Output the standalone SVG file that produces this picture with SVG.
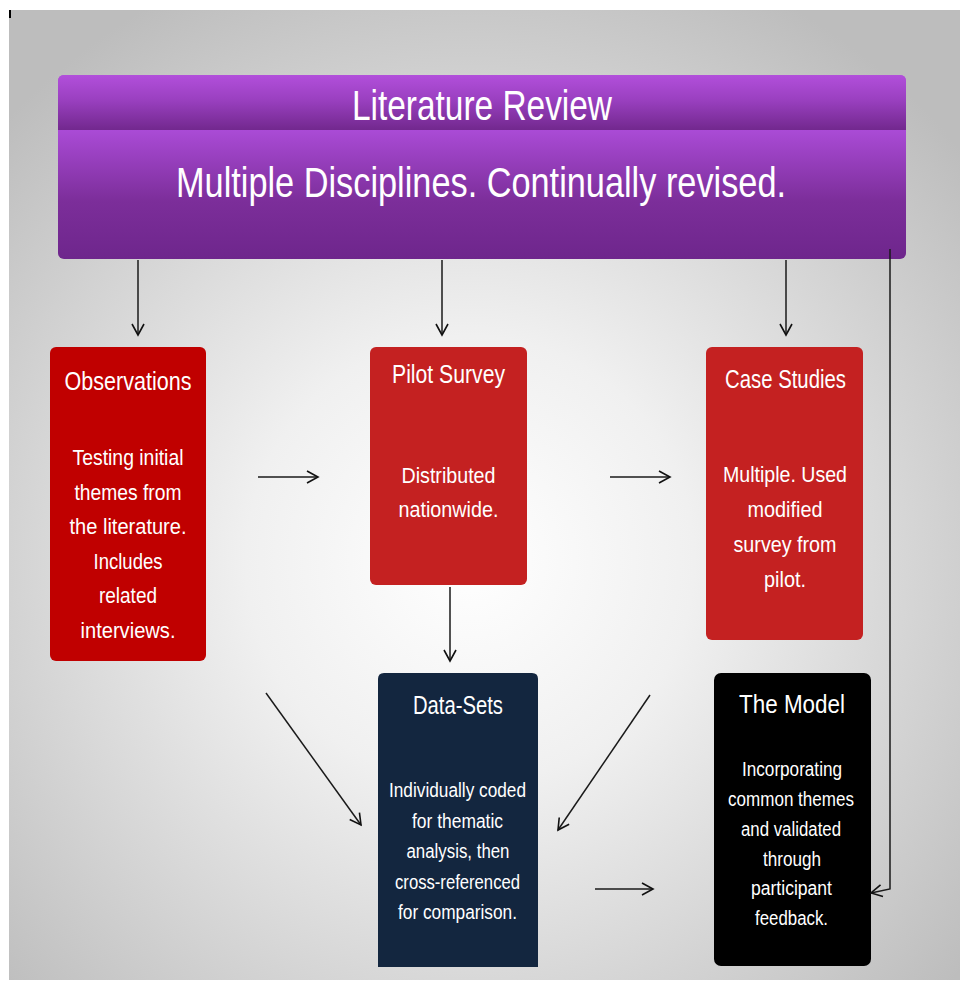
<svg xmlns="http://www.w3.org/2000/svg" width="960" height="983" viewBox="0 0 960 983">
<defs>
<radialGradient id="bg" gradientUnits="userSpaceOnUse" cx="470" cy="560" r="640">
<stop offset="0" stop-color="#ffffff"/>
<stop offset="0.35" stop-color="#f0f0f0"/>
<stop offset="1" stop-color="#bdbdbd"/>
</radialGradient>
<linearGradient id="hdrTop" x1="0" y1="75" x2="0" y2="130" gradientUnits="userSpaceOnUse">
<stop offset="0" stop-color="#b24fdb"/>
<stop offset="0.45" stop-color="#9a40c0"/>
<stop offset="1" stop-color="#72288e"/>
</linearGradient>
<linearGradient id="hdrBot" x1="0" y1="130" x2="0" y2="259" gradientUnits="userSpaceOnUse">
<stop offset="0" stop-color="#aa4bd6"/>
<stop offset="0.55" stop-color="#7c2e9a"/>
<stop offset="1" stop-color="#6e268c"/>
</linearGradient>
<marker id="ah" markerUnits="userSpaceOnUse" markerWidth="16" markerHeight="16" refX="12" refY="7" orient="auto" viewBox="0 0 16 14">
<path d="M1,1 L12,7 L1,13" fill="none" stroke="#111" stroke-width="1.6"/>
</marker>
</defs>
<style>
.t{font-family:"Liberation Sans",Arial,sans-serif;fill:#ffffff;text-anchor:middle}
.h{font-size:42px}
.tt{font-size:25px}
.b{font-size:22px}
.s{font-size:19.5px}
.c{fill:none;stroke:#1a1a1a;stroke-width:1.5}
</style>
<rect x="0" y="0" width="960" height="983" fill="#ffffff"/>
<rect x="9" y="10" width="951" height="970" fill="url(#bg)"/>
<rect x="9" y="10" width="2" height="8" fill="#000"/>

<g id="header">
<rect x="58" y="75" width="848" height="184" rx="6" fill="url(#hdrBot)"/>
<path d="M58,130 V81 Q58,75 64,75 H900 Q906,75 906,81 V130 Z" fill="url(#hdrTop)"/>
<text class="t h" x="482" y="120" textLength="260" lengthAdjust="spacingAndGlyphs">Literature Review</text>
<text class="t h" x="481" y="197" textLength="610" lengthAdjust="spacingAndGlyphs">Multiple Disciplines. Continually revised.</text>
</g>

<g id="observations">
<rect x="50" y="347" width="156" height="314" rx="6" fill="#c00000"/>
<text class="t tt" x="128" y="390" textLength="127" lengthAdjust="spacingAndGlyphs">Observations</text>
<text class="t b" x="128" y="465" textLength="111" lengthAdjust="spacingAndGlyphs">Testing initial</text>
<text class="t b" x="128" y="500" textLength="107" lengthAdjust="spacingAndGlyphs">themes from</text>
<text class="t b" x="128" y="534" textLength="117" lengthAdjust="spacingAndGlyphs">the literature.</text>
<text class="t b" x="128" y="569" textLength="69" lengthAdjust="spacingAndGlyphs">Includes</text>
<text class="t b" x="128" y="603" textLength="58" lengthAdjust="spacingAndGlyphs">related</text>
<text class="t b" x="128" y="638" textLength="95" lengthAdjust="spacingAndGlyphs">interviews.</text>
</g>

<g id="pilot-survey">
<rect x="370" y="347" width="157" height="238" rx="6" fill="#c42121"/>
<text class="t tt" x="448.5" y="383" textLength="113" lengthAdjust="spacingAndGlyphs">Pilot Survey</text>
<text class="t b" x="448.5" y="483" textLength="94" lengthAdjust="spacingAndGlyphs">Distributed</text>
<text class="t b" x="448.5" y="517" textLength="100" lengthAdjust="spacingAndGlyphs">nationwide.</text>
</g>

<g id="case-studies">
<rect x="706" y="347" width="157" height="293" rx="6" fill="#c42121"/>
<text class="t tt" x="785.5" y="388" textLength="121" lengthAdjust="spacingAndGlyphs">Case Studies</text>
<text class="t b" x="785" y="482" textLength="124" lengthAdjust="spacingAndGlyphs">Multiple. Used</text>
<text class="t b" x="785" y="517" textLength="75" lengthAdjust="spacingAndGlyphs">modified</text>
<text class="t b" x="785" y="552" textLength="103" lengthAdjust="spacingAndGlyphs">survey from</text>
<text class="t b" x="785" y="587" textLength="42" lengthAdjust="spacingAndGlyphs">pilot.</text>
</g>

<g id="data-sets">
<path d="M378,967 V679 Q378,673 384,673 H532 Q538,673 538,679 V967 Z" fill="#13263f"/>
<text class="t tt" x="458" y="714" textLength="90" lengthAdjust="spacingAndGlyphs">Data-Sets</text>
<text class="t s" x="457.5" y="797" textLength="137" lengthAdjust="spacingAndGlyphs">Individually coded</text>
<text class="t s" x="457.5" y="828" textLength="91" lengthAdjust="spacingAndGlyphs">for thematic</text>
<text class="t s" x="458" y="858" textLength="103" lengthAdjust="spacingAndGlyphs">analysis, then</text>
<text class="t s" x="457.5" y="889" textLength="125" lengthAdjust="spacingAndGlyphs">cross-referenced</text>
<text class="t s" x="457.5" y="919" textLength="119" lengthAdjust="spacingAndGlyphs">for comparison.</text>
</g>

<g id="the-model">
<rect x="714" y="673" width="157" height="293" rx="7" fill="#000000"/>
<text class="t tt" x="792" y="713" textLength="106" lengthAdjust="spacingAndGlyphs">The Model</text>
<text class="t s" x="792" y="776" textLength="100" lengthAdjust="spacingAndGlyphs">Incorporating</text>
<text class="t s" x="791" y="806" textLength="126" lengthAdjust="spacingAndGlyphs">common themes</text>
<text class="t s" x="791" y="836" textLength="100" lengthAdjust="spacingAndGlyphs">and validated</text>
<text class="t s" x="792" y="866" textLength="58" lengthAdjust="spacingAndGlyphs">through</text>
<text class="t s" x="791.5" y="895" textLength="81" lengthAdjust="spacingAndGlyphs">participant</text>
<text class="t s" x="791.5" y="925" textLength="73" lengthAdjust="spacingAndGlyphs">feedback.</text>
</g>

<g id="connectors">
<line class="c" x1="138" y1="260" x2="138" y2="335" marker-end="url(#ah)"/>
<line class="c" x1="442" y1="260" x2="442" y2="335" marker-end="url(#ah)"/>
<line class="c" x1="786" y1="260" x2="786" y2="335" marker-end="url(#ah)"/>
<path class="c" d="M890,249 V889 L871,893" stroke="#3a3a3a" stroke-width="1.3" marker-end="url(#ah)"/>
<line class="c" x1="258" y1="477" x2="318" y2="477" marker-end="url(#ah)"/>
<line class="c" x1="610" y1="477" x2="670" y2="477" marker-end="url(#ah)"/>
<line class="c" x1="450" y1="587" x2="450" y2="661" marker-end="url(#ah)"/>
<line class="c" x1="266" y1="693" x2="361" y2="825" marker-end="url(#ah)"/>
<line class="c" x1="650" y1="695" x2="558" y2="830" marker-end="url(#ah)"/>
<line class="c" x1="595" y1="889" x2="653" y2="889" marker-end="url(#ah)"/>
</g>
</svg>
